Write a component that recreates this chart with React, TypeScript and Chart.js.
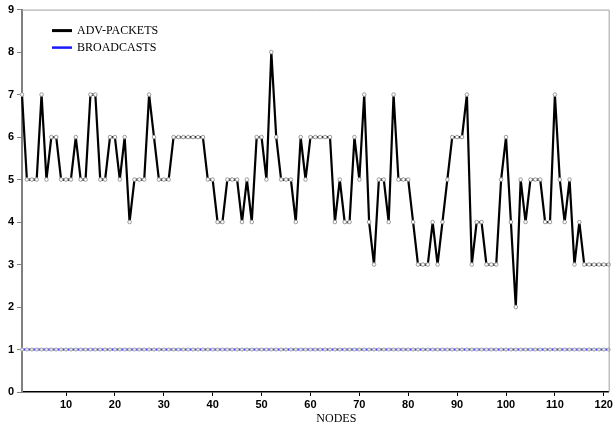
import React, { useEffect, useRef } from 'react';
import { Chart, registerables } from 'chart.js';

Chart.register(...registerables);

const advPackets = [
  7, 5, 5, 5, 7, 5, 6, 6, 5, 5, 5, 6, 5, 5, 7, 7, 5, 5, 6, 6,
  5, 6, 4, 5, 5, 5, 7, 6, 5, 5, 5, 6, 6, 6, 6, 6, 6, 6, 5, 5,
  4, 4, 5, 5, 5, 4, 5, 4, 6, 6, 5, 8, 6, 5, 5, 5, 4, 6, 5, 6,
  6, 6, 6, 6, 4, 5, 4, 4, 6, 5, 7, 4, 3, 5, 5, 4, 7, 5, 5, 5,
  4, 3, 3, 3, 4, 3, 4, 5, 6, 6, 6, 7, 3, 4, 4, 3, 3, 3, 5, 6,
  4, 2, 5, 4, 5, 5, 5, 4, 4, 7, 5, 4, 5, 3, 4, 3, 3, 3, 3, 3,
  3,
];

const broadcasts = [
  1, 1, 1, 1, 1, 1, 1, 1, 1, 1, 1, 1, 1, 1, 1, 1, 1, 1, 1, 1,
  1, 1, 1, 1, 1, 1, 1, 1, 1, 1, 1, 1, 1, 1, 1, 1, 1, 1, 1, 1,
  1, 1, 1, 1, 1, 1, 1, 1, 1, 1, 1, 1, 1, 1, 1, 1, 1, 1, 1, 1,
  1, 1, 1, 1, 1, 1, 1, 1, 1, 1, 1, 1, 1, 1, 1, 1, 1, 1, 1, 1,
  1, 1, 1, 1, 1, 1, 1, 1, 1, 1, 1, 1, 1, 1, 1, 1, 1, 1, 1, 1,
  1, 1, 1, 1, 1, 1, 1, 1, 1, 1, 1, 1, 1, 1, 1, 1, 1, 1, 1, 1,
  1,
];

const xTicks = [10, 20, 30, 40, 50, 60, 70, 80, 90, 100, 110, 120];
const yTicks = [0, 1, 2, 3, 4, 5, 6, 7, 8, 9];
const seriesNames = ['ADV-PACKETS', 'BROADCASTS'];
const seriesColors = ['#000000', '#1a1aff'];
const xTitle = 'NODES';

const nodes = advPackets.map((_, i) => i + 1);

const decorPlugin = {
  id: 'decor',
  afterDraw(chart: any) {
    const { ctx, chartArea: a } = chart;
    ctx.save();
    // top and right frame
    ctx.strokeStyle = '#a0a0a0';
    ctx.lineWidth = 1;
    ctx.beginPath();
    ctx.moveTo(a.left, a.top + 0.5);
    ctx.lineTo(a.right + 0.5, a.top + 0.5);
    ctx.lineTo(a.right + 0.5, a.bottom);
    ctx.stroke();

    // legend
    ctx.font = '12px "Liberation Serif", "Times New Roman", serif';
    ctx.textBaseline = 'middle';
    ctx.textAlign = 'left';
    seriesNames.forEach((name, i) => {
      const y = a.top + 21 + i * 17;
      ctx.strokeStyle = seriesColors[i];
      ctx.lineWidth = i === 0 ? 3 : 2.5;
      ctx.beginPath();
      ctx.moveTo(a.left + 30, y);
      ctx.lineTo(a.left + 50, y);
      ctx.stroke();
      ctx.fillStyle = '#000';
      ctx.fillText(name, a.left + 55, y);
    });

    // x-axis title
    ctx.font = '12px "Liberation Serif", "Times New Roman", serif';
    ctx.textAlign = 'center';
    ctx.fillText(xTitle, (a.left + a.right) / 2 + 21, 419);
    ctx.restore();
  },
};

export default function App() {
  const ref = useRef<HTMLCanvasElement>(null);

  useEffect(() => {
    document.body.style.margin = '0';
    const canvas = ref.current;
    if (!canvas) return;
    const tickFont = { family: '"Liberation Sans", Arial, sans-serif', size: 11, weight: 'bold' as const };
    const chart = new Chart(canvas, {
      type: 'line',
      data: {
        datasets: [
          {
            label: seriesNames[0],
            data: nodes.map((n, i) => ({ x: n, y: advPackets[i] })),
            borderColor: seriesColors[0],
            borderWidth: 2.2,
            borderJoinStyle: 'round',
            pointRadius: 1.8,
            pointBackgroundColor: '#ffffff',
            pointBorderColor: '#9a9a9a',
            pointBorderWidth: 1,
            tension: 0,
            clip: false as any,
          },
          {
            label: seriesNames[1],
            data: nodes.map((n, i) => ({ x: n, y: broadcasts[i] })),
            borderColor: seriesColors[1],
            borderWidth: 2,
            pointRadius: 1.6,
            pointBackgroundColor: '#e8e8e8',
            pointBorderColor: '#a8a8a8',
            pointBorderWidth: 1,
            tension: 0,
            clip: false as any,
          },
        ],
      },
      options: {
        responsive: false,
        animation: false,
        layout: { padding: { top: 7, right: 3, left: 0, bottom: 0 } },
        plugins: {
          legend: { display: false },
          tooltip: { enabled: false },
        },
        scales: {
          x: {
            type: 'linear',
            min: 1,
            max: 121,
            afterBuildTicks: (scale: any) => {
              scale.ticks = xTicks.map((v) => ({ value: v }));
            },
            afterFit: (scale: any) => {
              scale.height = 38;
            },
            grid: {
              drawOnChartArea: false,
              drawTicks: true,
              tickLength: 4,
              color: '#000',
            },
            border: { display: true, color: '#000', width: 1.5 },
            ticks: {
              color: '#000',
              font: tickFont,
              padding: 2,
              maxRotation: 0,
              autoSkip: false,
            },
          },
          y: {
            type: 'linear',
            min: 0,
            max: 9,
            afterBuildTicks: (scale: any) => {
              scale.ticks = yTicks.map((v) => ({ value: v }));
            },
            afterFit: (scale: any) => {
              scale.width = 22;
            },
            grid: {
              drawOnChartArea: false,
              drawTicks: true,
              tickLength: 5,
              color: '#808080',
            },
            border: { display: true, color: '#808080', width: 2 },
            ticks: {
              color: '#000',
              font: tickFont,
              padding: 3,
              autoSkip: false,
            },
          },
        },
      },
      plugins: [decorPlugin],
    });
    return () => chart.destroy();
  }, []);

  return (
    <div style={{ width: 615, height: 430, background: '#fff' }}>
      <canvas ref={ref} width={615} height={430} />
    </div>
  );
}
